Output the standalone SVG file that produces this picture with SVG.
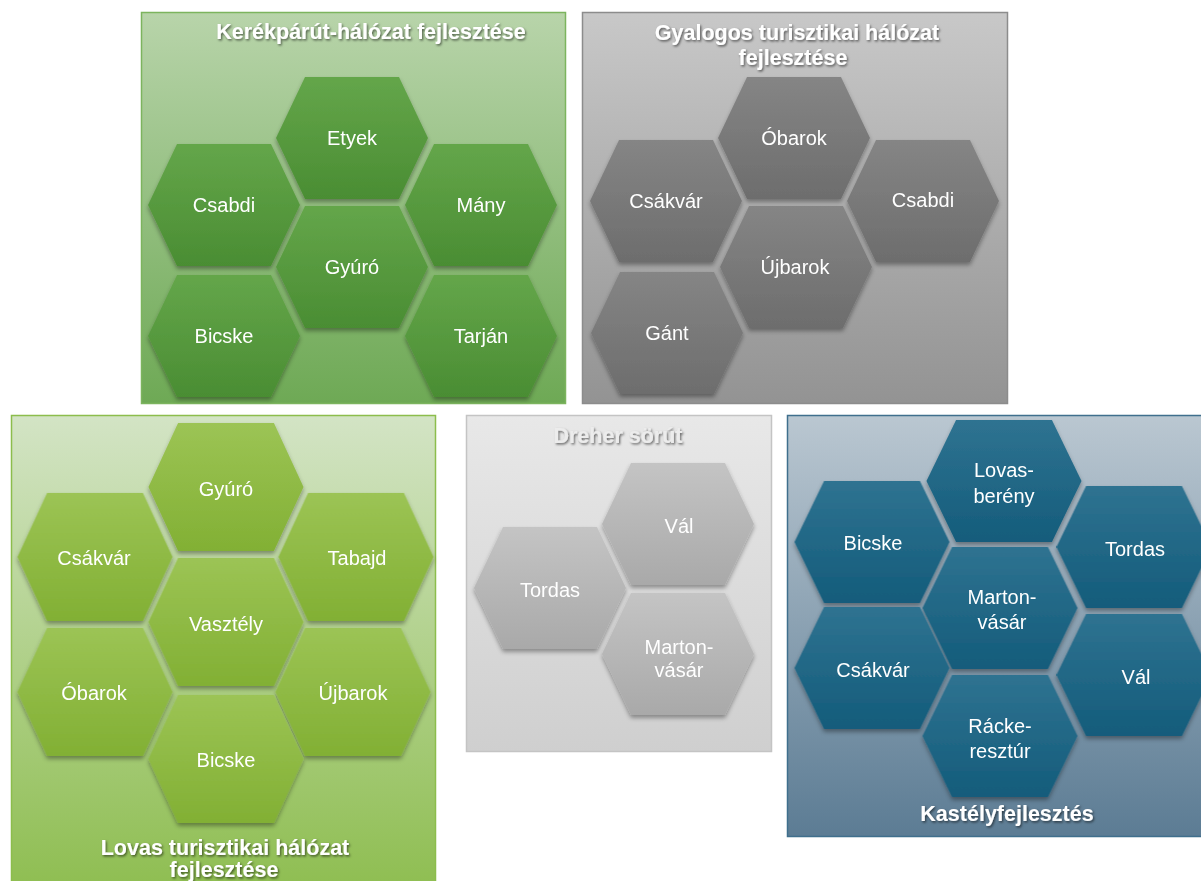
<svg xmlns="http://www.w3.org/2000/svg" xmlns:xlink="http://www.w3.org/1999/xlink" width="1201" height="881" viewBox="0 0 1201 881">
<defs>
<style>
.lbl{font-family:"Liberation Sans",Arial,sans-serif;font-size:20px;fill:#ffffff;text-anchor:middle}
.ttl{font-family:"Liberation Sans",Arial,sans-serif;font-size:21.5px;font-weight:bold;fill:#ffffff;text-anchor:middle;filter:url(#ts)}
.hexes{filter:url(#hs)}
</style>
<filter id="ts" x="-10%" y="-40%" width="120%" height="180%">
<feDropShadow dx="1.2" dy="1.5" stdDeviation="0.8" flood-color="#000" flood-opacity="0.55"/>
</filter>
<filter id="hs" x="-10%" y="-10%" width="120%" height="125%">
<feDropShadow dx="0" dy="3" stdDeviation="2" flood-color="#000" flood-opacity="0.35"/>
</filter>
<polygon id="hx" points="-76,0 -47,-61 47,-61 76,0 47,61 -47,61"/>
<linearGradient id="bg1" x1="0" y1="0" x2="0" y2="1"><stop offset="0" stop-color="#b8d4aa"/><stop offset="1" stop-color="#6ea955"/></linearGradient>
<linearGradient id="hx1" x1="0" y1="0" x2="0" y2="1"><stop offset="0" stop-color="#64a64a"/><stop offset="1" stop-color="#4a8d33"/></linearGradient>
<linearGradient id="bg2" x1="0" y1="0" x2="0" y2="1"><stop offset="0" stop-color="#c8c8c8"/><stop offset="1" stop-color="#939393"/></linearGradient>
<linearGradient id="hx2" x1="0" y1="0" x2="0" y2="1"><stop offset="0" stop-color="#858585"/><stop offset="1" stop-color="#6d6d6d"/></linearGradient>
<linearGradient id="bg3" x1="0" y1="0" x2="0" y2="1"><stop offset="0" stop-color="#d3e4c5"/><stop offset="1" stop-color="#8fbe52"/></linearGradient>
<linearGradient id="hx3" x1="0" y1="0" x2="0" y2="1"><stop offset="0" stop-color="#9cc455"/><stop offset="1" stop-color="#82b034"/></linearGradient>
<linearGradient id="bg4" x1="0" y1="0" x2="0" y2="1"><stop offset="0" stop-color="#e8e8e8"/><stop offset="1" stop-color="#cfcfcf"/></linearGradient>
<linearGradient id="hx4" x1="0" y1="0" x2="0" y2="1"><stop offset="0" stop-color="#c4c4c4"/><stop offset="1" stop-color="#a9a9a9"/></linearGradient>
<linearGradient id="bg5" x1="0" y1="0" x2="0" y2="1"><stop offset="0" stop-color="#bac7d1"/><stop offset="1" stop-color="#5c7c94"/></linearGradient>
<linearGradient id="hx5" x1="0" y1="0" x2="0" y2="1"><stop offset="0" stop-color="#2f7391"/><stop offset="1" stop-color="#145c7b"/></linearGradient>
</defs>

<!-- Panel 1 -->
<g id="panel-kerekparut">
<rect x="141.5" y="12.5" width="424" height="391" fill="url(#bg1)" stroke="#7cb45e" stroke-width="1.5"/>
<text class="ttl" x="371" y="39">Kerékpárút-hálózat fejlesztése</text>
<g class="hexes" fill="url(#hx1)">
<use href="#hx" x="352" y="138"/>
<use href="#hx" x="224" y="205"/>
<use href="#hx" x="481" y="205"/>
<use href="#hx" x="352" y="267"/>
<use href="#hx" x="224" y="336"/>
<use href="#hx" x="481" y="336"/>
</g>
<text class="lbl" x="352" y="145">Etyek</text>
<text class="lbl" x="224" y="212">Csabdi</text>
<text class="lbl" x="481" y="212">Mány</text>
<text class="lbl" x="352" y="274">Gyúró</text>
<text class="lbl" x="224" y="343">Bicske</text>
<text class="lbl" x="481" y="343">Tarján</text>
</g>

<!-- Panel 2 -->
<g id="panel-gyalogos">
<rect x="582.5" y="12.5" width="425" height="391" fill="url(#bg2)" stroke="#8c8c8c" stroke-width="1.5"/>
<text class="ttl" x="797" y="40">Gyalogos turisztikai hálózat</text>
<text class="ttl" x="793" y="65">fejlesztése</text>
<g class="hexes" fill="url(#hx2)">
<use href="#hx" x="794" y="138"/>
<use href="#hx" x="666" y="201"/>
<use href="#hx" x="923" y="201"/>
<use href="#hx" x="796" y="267"/>
<use href="#hx" x="667" y="333"/>
</g>
<text class="lbl" x="794" y="145">Óbarok</text>
<text class="lbl" x="666" y="208">Csákvár</text>
<text class="lbl" x="923" y="207">Csabdi</text>
<text class="lbl" x="795" y="274">Újbarok</text>
<text class="lbl" x="667" y="340">Gánt</text>
</g>

<!-- Panel 3 -->
<g id="panel-lovas">
<rect x="11.5" y="415.5" width="424" height="470" fill="url(#bg3)" stroke="#8cbd4c" stroke-width="1.5"/>
<g class="hexes" fill="url(#hx3)">
<use href="#hx" transform="translate(226,487) scale(1.02,1.05)"/>
<use href="#hx" transform="translate(95,557) scale(1.02,1.05)"/>
<use href="#hx" transform="translate(356,557) scale(1.02,1.05)"/>
<use href="#hx" transform="translate(226,622) scale(1.02,1.05)"/>
<use href="#hx" transform="translate(95,692) scale(1.02,1.05)"/>
<use href="#hx" transform="translate(353,692) scale(1.02,1.05)"/>
<use href="#hx" transform="translate(226,759) scale(1.02,1.05)"/>
</g>
<text class="lbl" x="226" y="496">Gyúró</text>
<text class="lbl" x="94" y="565">Csákvár</text>
<text class="lbl" x="357" y="565">Tabajd</text>
<text class="lbl" x="226" y="631">Vasztély</text>
<text class="lbl" x="94" y="700">Óbarok</text>
<text class="lbl" x="353" y="700">Újbarok</text>
<text class="lbl" x="226" y="767">Bicske</text>
<text class="ttl" x="225" y="855">Lovas turisztikai hálózat</text>
<text class="ttl" x="224" y="877">fejlesztése</text>
</g>

<!-- Panel 4 -->
<g id="panel-dreher">
<rect x="466.5" y="415.5" width="305" height="336" fill="url(#bg4)" stroke="#c4c4c4" stroke-width="1.5"/>
<text class="ttl" x="618" y="443" style="fill:#ececec">Dreher sörút</text>
<g class="hexes" fill="url(#hx4)">
<use href="#hx" x="678" y="524"/>
<use href="#hx" x="550" y="588"/>
<use href="#hx" x="678" y="654"/>
</g>
<text class="lbl" x="679" y="533">Vál</text>
<text class="lbl" x="550" y="597">Tordas</text>
<text class="lbl" x="679" y="654">Marton-</text>
<text class="lbl" x="679" y="677">vásár</text>
</g>

<!-- Panel 5 -->
<g id="panel-kastely">
<rect x="787.5" y="415.5" width="420" height="421" fill="url(#bg5)" stroke="#3f6f8d" stroke-width="1.5"/>
<g class="hexes" fill="url(#hx5)">
<use href="#hx" transform="translate(1004,481) scale(1.02,1)"/>
<use href="#hx" transform="translate(872,542) scale(1.02,1)"/>
<use href="#hx" transform="translate(1134,547) scale(1.02,1)"/>
<use href="#hx" transform="translate(1000,608) scale(1.02,1)"/>
<use href="#hx" transform="translate(872,668) scale(1.02,1)"/>
<use href="#hx" transform="translate(1134,675) scale(1.02,1)"/>
<use href="#hx" transform="translate(1000,736) scale(1.02,1)"/>
</g>
<text class="lbl" x="1004" y="477">Lovas-</text>
<text class="lbl" x="1004" y="503">berény</text>
<text class="lbl" x="873" y="550">Bicske</text>
<text class="lbl" x="1135" y="556">Tordas</text>
<text class="lbl" x="1002" y="604">Marton-</text>
<text class="lbl" x="1002" y="629">vásár</text>
<text class="lbl" x="873" y="677">Csákvár</text>
<text class="lbl" x="1136" y="684">Vál</text>
<text class="lbl" x="1000" y="733">Rácke-</text>
<text class="lbl" x="1000" y="758">resztúr</text>
<text class="ttl" x="1007" y="821">Kastélyfejlesztés</text>
</g>

<g id="connectors"/>
</svg>
